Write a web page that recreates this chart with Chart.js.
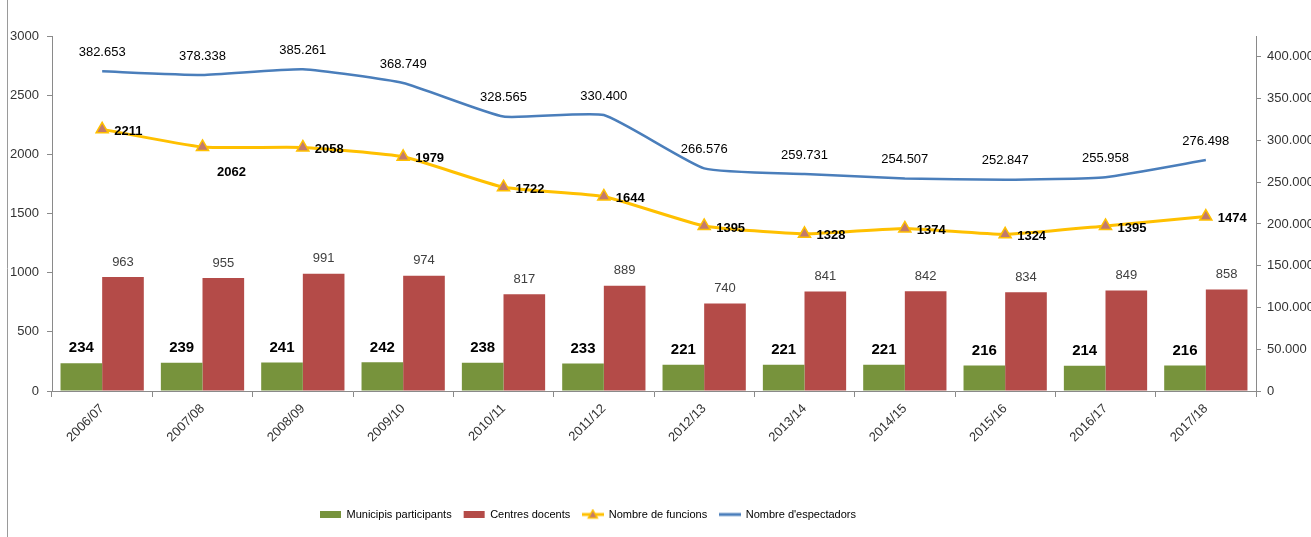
<!DOCTYPE html>
<html>
<head>
<meta charset="utf-8">
<script src="https://cdn.jsdelivr.net/npm/chart.js@4/dist/chart.umd.min.js"></script>
<style>
  html, body { margin: 0; padding: 0; background: #fff; }
  #wrap { position: relative; width: 1311px; height: 537px; }
</style>
</head>
<body>
<div id="wrap"><canvas id="chart" width="1311" height="537"></canvas></div>
<script>
const seasons = ["2006/07", "2007/08", "2008/09", "2009/10", "2010/11", "2011/12",
  "2012/13", "2013/14", "2014/15", "2015/16", "2016/17", "2017/18"];
const municipis = [234, 239, 241, 242, 238, 233, 221, 221, 221, 216, 214, 216];
const centres = [963, 955, 991, 974, 817, 889, 740, 841, 842, 834, 849, 858];
const funcions = [2211, 2062, 2058, 1979, 1722, 1644, 1395, 1328, 1374, 1324, 1395, 1474];
const espectadors = [382653, 378338, 385261, 368749, 328565, 330400, 266576, 259731, 254507, 252847, 255958, 276498];
const leftTicks = [0, 500, 1000, 1500, 2000, 2500, 3000];
const rightTicks = [0, 50000, 100000, 150000, 200000, 250000, 300000, 350000, 400000];

const GREEN = "#77933c";
const RED = "#b44b48";
const ORANGE = "#ffc000";
const TRI_FILL = "#c27a6c";
const BLUE = "#4a7ebb";
const AXIS = "#8a8a8a";
const FONT = "'Liberation Sans', Arial, sans-serif";

function dots(v) {
  return String(v).replace(/\B(?=(\d{3})+(?!\d))/g, ".");
}

// small legend icons for the two line series
function lineIcon(color, withTriangle) {
  const c = document.createElement("canvas");
  c.width = 22;
  c.height = 12;
  const g = c.getContext("2d");
  g.strokeStyle = color;
  g.lineWidth = 3;
  g.beginPath();
  g.moveTo(0, 6);
  g.lineTo(22, 6);
  g.stroke();
  if (withTriangle) {
    g.beginPath();
    g.moveTo(11, 1.5);
    g.lineTo(15.5, 9.5);
    g.lineTo(6.5, 9.5);
    g.closePath();
    g.fillStyle = TRI_FILL;
    g.fill();
    g.lineWidth = 1.5;
    g.strokeStyle = ORANGE;
    g.stroke();
  }
  return c;
}

const valueLabels = {
  id: "valueLabels",
  afterDatasetsDraw(chart) {
    const ctx = chart.ctx;
    ctx.save();
    chart.data.datasets.forEach((ds, di) => {
      const meta = chart.getDatasetMeta(di);
      meta.data.forEach((el, i) => {
        const v = ds.data[i];
        ctx.textBaseline = "middle";
        if (di === 0) {
          ctx.font = "bold 15px " + FONT;
          ctx.fillStyle = "#000";
          ctx.textAlign = "center";
          ctx.fillText(String(v), el.x, el.y - 15);
        } else if (di === 1) {
          ctx.font = "13px " + FONT;
          ctx.fillStyle = "#404040";
          ctx.textAlign = "center";
          ctx.fillText(String(v), el.x, el.y - 15);
        } else if (di === 2) {
          ctx.font = "bold 13px " + FONT;
          ctx.fillStyle = "#000";
          if (i === 1) {
            ctx.textAlign = "center";
            ctx.fillText(String(v), el.x + 29, el.y + 25);
          } else {
            ctx.textAlign = "left";
            ctx.fillText(String(v), el.x + 12, el.y + 2);
          }
        } else {
          ctx.font = "13px " + FONT;
          ctx.fillStyle = "#000";
          ctx.textAlign = "center";
          ctx.fillText(dots(v), el.x, el.y - 19);
        }
      });
    });
    ctx.restore();
  }
};

const frameAndLegend = {
  id: "frameAndLegend",
  afterLayout(chart) {
    // shift the centred legend block so it starts around x = 320
    const lg = chart.legend;
    if (lg && lg.lineWidths) {
      lg.right = 2 * 322 - lg.left - 16 + lg.lineWidths[0];
    }
  },
  beforeDraw(chart) {
    const ctx = chart.ctx;
    ctx.save();
    ctx.strokeStyle = "#9a9a9a";
    ctx.lineWidth = 1;
    ctx.beginPath();
    ctx.moveTo(7.5, 0);
    ctx.lineTo(7.5, 537);
    ctx.stroke();
    ctx.restore();
  }
};

const icons = [null, null, lineIcon(ORANGE, true), lineIcon(BLUE, false)];

new Chart(document.getElementById("chart"), {
  data: {
    labels: seasons,
    datasets: [
      {
        type: "bar",
        label: "Municipis participants",
        data: municipis,
        backgroundColor: GREEN,
        yAxisID: "y",
        order: 2,
        categoryPercentage: 0.83,
        barPercentage: 1.0
      },
      {
        type: "bar",
        label: "Centres docents",
        data: centres,
        backgroundColor: RED,
        yAxisID: "y",
        order: 2,
        categoryPercentage: 0.83,
        barPercentage: 1.0
      },
      {
        type: "line",
        label: "Nombre de funcions",
        data: funcions,
        borderColor: ORANGE,
        borderWidth: 3,
        pointStyle: "triangle",
        pointRadius: 7,
        pointBorderWidth: 1.5,
        pointBackgroundColor: TRI_FILL,
        pointBorderColor: ORANGE,
        tension: 0.15,
        yAxisID: "y",
        order: 0
      },
      {
        type: "line",
        label: "Nombre d'espectadors",
        data: espectadors,
        borderColor: BLUE,
        borderWidth: 2.5,
        pointRadius: 0,
        tension: 0.15,
        yAxisID: "y1",
        order: 1
      }
    ]
  },
  options: {
    responsive: false,
    animation: false,
    devicePixelRatio: 1,
    layout: { padding: { top: 36, left: 0, right: 0, bottom: 7 } },
    plugins: {
      tooltip: { enabled: false },
      legend: {
        position: "bottom",
        align: "center",
        labels: {
          usePointStyle: true,
          pointStyleWidth: 21,
          boxHeight: 7,
          padding: 12,
          color: "#222",
          font: { size: 11, family: FONT },
          generateLabels(chart) {
            return chart.data.datasets.map((ds, i) => ({
              text: ds.label,
              datasetIndex: i,
              fillStyle: ds.backgroundColor || ds.borderColor,
              strokeStyle: ds.backgroundColor || ds.borderColor,
              lineWidth: 0,
              pointStyle: icons[i] || "rect",
              hidden: false
            }));
          }
        }
      }
    },
    scales: {
      x: {
        grid: { offset: true, drawOnChartArea: false, drawTicks: true, tickLength: 6, color: AXIS },
        border: { color: AXIS },
        ticks: {
          minRotation: 45,
          maxRotation: 45,
          padding: 4,
          color: "#333",
          font: { size: 13, family: FONT }
        },
        afterFit(scale) { scale.height = 106; }
      },
      y: {
        position: "left",
        min: 0,
        max: 3000,
        ticks: {
          autoSkip: false,
          padding: 8,
          color: "#333",
          font: { size: 13, family: FONT },
          callback: (v) => String(v)
        },
        afterBuildTicks(scale) {
          scale.ticks = leftTicks.map(v => ({ value: v }));
        },
        grid: { drawOnChartArea: false, drawTicks: true, tickLength: 5, color: AXIS },
        border: { color: AXIS },
        afterFit(scale) { scale.width = 52; }
      },
      y1: {
        position: "right",
        min: 0,
        max: 425000,
        ticks: {
          autoSkip: false,
          padding: 6,
          color: "#333",
          font: { size: 13, family: FONT },
          callback: (v) => dots(v)
        },
        afterBuildTicks(scale) {
          scale.ticks = rightTicks.map(v => ({ value: v }));
        },
        grid: { drawOnChartArea: false, drawTicks: true, tickLength: 5, color: AXIS },
        border: { color: AXIS },
        afterFit(scale) { scale.width = 55; }
      }
    }
  },
  plugins: [valueLabels, frameAndLegend]
});
</script>
</body>
</html>
